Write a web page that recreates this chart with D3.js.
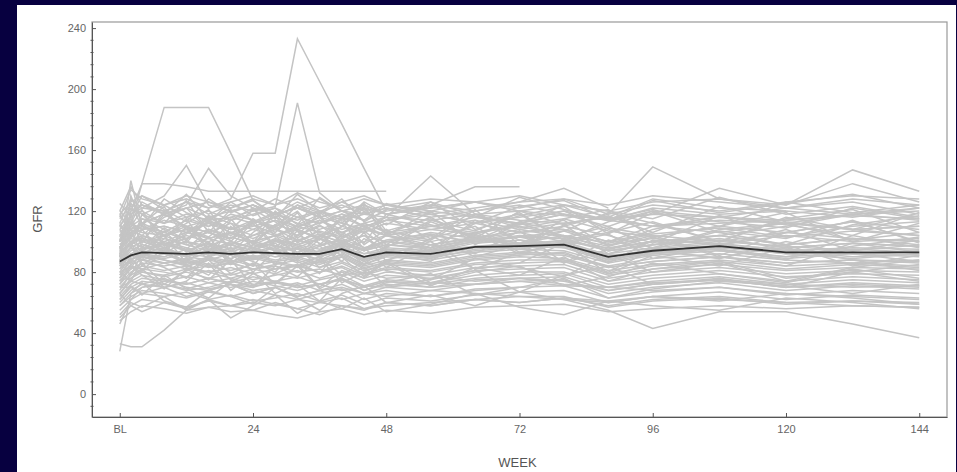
<!DOCTYPE html>
<html>
<head>
<meta charset="utf-8">
<script src="https://cdn.jsdelivr.net/npm/d3@7"></script>
<style>
    html, body { margin: 0; padding: 0; background: #070040; }
    svg { display: block; }
    .axis text { font-family: "Liberation Sans", Arial, sans-serif; font-size: 11px; fill: #666; }
    .axis path, .axis line { stroke: #555; }
    .axis-title { font-family: "Liberation Sans", Arial, sans-serif; font-size: 13px; fill: #555; }
</style>
</head>
<body>
<div id="chart"></div>
<script>
// visit weeks (0 = baseline)
const weeks = [0, 2, 4, 8, 12, 16, 20, 24, 28, 32, 36, 40, 44, 48, 56, 64, 72, 80, 88, 96, 108, 120, 132, 144];

const xTicks = [0, 24, 48, 72, 96, 120, 144];
const xTickLabels = ["BL", "24", "48", "72", "96", "120", "144"];
const yTicks = [0, 40, 80, 120, 160, 200, 240];

// mean GFR per visit
const meanGFR = [87, 91, 93, 92.5, 92, 93, 92, 93, 92.5, 92, 92, 95, 90, 93, 92, 96.5, 97, 98, 90, 94, 97, 93, 93, 93];

// individual subjects, one row per subject (shorter rows = dropped out)
const subjects = [
    [33, 31, 31, 42, 55, 57, 58, 60, 58, 62, 60, 58, 56, 58, 60, 62, 60, 63, 61, 64, 62, 60, 61, 59],
    [28, 66, 70, 72, 68, 70, 74, 71, 73, 70, 72, 75, 71, 70, 73, 72, 74, 71, 70, 73, 75, 72, 70, 71],
    [96, 112, 138, 188, 188, 188, 158, 127, 118, 112, 108],
    [100, 118, 124, 120, 126, 122, 128, 158, 158, 233, 205, 177, 148, 120],
    [104, 110, 115, 112, 118, 114, 116, 120, 123, 191, 132, 120, 118, 116, 114, 118, 120, 117, 115, 118, 116, 114, 117, 115],
    [90, 120, 138, 138, 136, 133, 133, 133, 133, 133, 133, 133, 133, 133],
    [98, 104, 108, 110, 106, 112, 108, 114, 110, 116, 112, 118, 114, 120, 124, 136, 136],
    [92, 100, 102, 98, 104, 100, 106, 102, 108, 104, 110, 106, 112, 116, 143, 118, 114, 112, 116, 110, 114, 112, 108, 110],
    [95, 102, 100, 104, 98, 102, 106, 100, 104, 108, 102, 106, 110, 104, 108, 112, 106, 110, 118, 149, 128, 122, 118, 120],
    [100, 106, 110, 104, 108, 112, 106, 110, 114, 108, 112, 116, 110, 114, 118, 112, 116, 120, 114, 118, 135, 124, 147, 133],
    [70, 74, 72, 76, 70, 68, 72, 66, 70, 64, 68, 62, 66, 64, 68, 66, 64, 62, 55, 43, 54, 54, 46, 37],
    [102, 108, 112, 106, 114, 110, 116, 112, 118, 114, 120, 116, 122, 118, 124, 120, 126, 135, 122],
    [118, 126, 130, 124, 128, 122, 126, 130, 124, 128, 122, 126, 130, 124, 128, 126, 122, 128, 124, 130, 126, 122, 128, 124],
    [110, 122, 118, 124, 116, 120, 114, 118, 122, 116, 120, 114, 118, 122, 116, 120, 124, 118, 114, 122, 118, 120, 116, 122],
    [108, 116, 120, 112, 116, 110, 118, 114, 108, 116, 112, 118, 110, 114, 120, 116, 112, 118, 114, 110, 116, 112, 118, 114],
    [85, 130, 112, 118, 110, 114, 108, 112, 116, 110, 114, 108, 112, 106, 110, 114, 108, 112, 116, 110, 106, 112, 108, 110],
    [104, 112, 108, 110, 106, 113, 109, 104, 111, 107, 103, 110, 106, 112, 108, 105, 111, 115, 107, 103, 110, 106, 113, 108],
    [98, 104, 110, 106, 102, 108, 104, 111, 105, 100, 107, 103, 109, 104, 100, 106, 110, 104, 99, 105, 109, 103, 107, 104],
    [96, 108, 104, 100, 106, 102, 98, 104, 108, 101, 105, 99, 104, 100, 106, 102, 108, 103, 97, 104, 100, 106, 102, 98],
    [92, 100, 104, 98, 102, 106, 100, 96, 102, 98, 104, 100, 95, 101, 105, 99, 103, 107, 98, 102, 98, 104, 100, 102],
    [94, 98, 102, 96, 100, 97, 103, 99, 95, 101, 97, 102, 96, 100, 98, 103, 99, 104, 95, 100, 104, 98, 102, 100],
    [90, 96, 100, 102, 98, 94, 100, 96, 101, 97, 93, 99, 95, 100, 96, 102, 98, 101, 94, 98, 102, 96, 99, 97],
    [88, 100, 96, 98, 94, 99, 95, 100, 97, 93, 98, 101, 94, 98, 95, 100, 103, 97, 92, 96, 100, 97, 94, 98],
    [86, 94, 98, 95, 91, 97, 93, 98, 94, 96, 92, 98, 90, 95, 93, 99, 101, 98, 90, 95, 99, 94, 96, 95],
    [92, 90, 95, 99, 94, 92, 96, 93, 97, 95, 91, 96, 92, 94, 90, 97, 99, 100, 91, 93, 98, 95, 92, 94],
    [84, 92, 96, 94, 90, 95, 91, 96, 92, 89, 94, 97, 88, 93, 91, 96, 98, 99, 88, 94, 97, 92, 95, 93],
    [88, 96, 92, 90, 95, 91, 94, 90, 93, 96, 90, 95, 89, 92, 94, 97, 95, 100, 89, 92, 96, 94, 90, 92],
    [80, 90, 94, 92, 88, 93, 89, 94, 90, 92, 88, 94, 87, 91, 89, 95, 97, 96, 87, 92, 95, 90, 93, 91],
    [82, 88, 92, 94, 90, 88, 92, 89, 93, 90, 92, 95, 88, 92, 90, 94, 96, 97, 88, 93, 96, 92, 89, 92],
    [78, 88, 91, 89, 92, 90, 87, 91, 88, 90, 86, 92, 85, 90, 88, 93, 95, 94, 86, 91, 94, 89, 92, 90],
    [84, 86, 90, 88, 85, 89, 86, 90, 87, 84, 88, 91, 84, 88, 86, 91, 93, 92, 84, 89, 92, 88, 86, 88],
    [76, 85, 88, 86, 89, 85, 88, 84, 87, 89, 85, 90, 83, 86, 84, 89, 91, 93, 83, 87, 90, 86, 88, 87],
    [74, 82, 86, 84, 87, 83, 86, 82, 85, 88, 83, 87, 81, 85, 83, 88, 90, 89, 81, 85, 88, 84, 86, 84],
    [80, 84, 82, 86, 82, 84, 81, 85, 82, 84, 80, 86, 79, 83, 81, 86, 88, 88, 79, 84, 87, 82, 85, 83],
    [72, 80, 84, 81, 84, 80, 83, 79, 82, 85, 80, 84, 78, 82, 80, 85, 86, 87, 78, 82, 85, 81, 83, 82],
    [70, 78, 82, 80, 77, 81, 78, 82, 79, 76, 80, 83, 76, 80, 78, 83, 84, 85, 76, 80, 83, 79, 81, 80],
    [75, 76, 80, 77, 80, 76, 79, 75, 78, 81, 76, 80, 74, 78, 76, 81, 82, 83, 74, 78, 81, 77, 79, 78],
    [66, 74, 78, 75, 72, 76, 73, 77, 74, 71, 75, 78, 71, 75, 73, 78, 80, 80, 72, 76, 79, 74, 77, 75],
    [64, 72, 76, 74, 77, 73, 76, 72, 74, 77, 72, 76, 70, 74, 72, 76, 78, 79, 70, 74, 77, 72, 75, 73],
    [70, 70, 74, 72, 69, 73, 70, 74, 71, 68, 72, 75, 68, 72, 70, 75, 76, 77, 68, 72, 75, 70, 73, 71],
    [60, 68, 72, 70, 73, 69, 72, 68, 70, 73, 68, 72, 66, 70, 68, 72, 74, 75, 66, 70, 73, 68, 71, 69],
    [58, 64, 68, 66, 63, 67, 64, 68, 65, 62, 66, 69, 62, 66, 64, 69, 70, 71, 63, 67, 70, 65, 68, 66],
    [55, 62, 66, 64, 67, 62, 65, 61, 63, 66, 61, 65, 59, 63, 61, 65, 67, 68, 60, 64, 67, 62, 65, 63],
    [50, 58, 62, 60, 57, 61, 58, 62, 59, 56, 60, 63, 56, 60, 58, 62, 64, 64, 57, 61, 63, 59, 61, 60],
    [48, 54, 58, 56, 53, 57, 54, 55, 52, 50, 54, 56, 52, 55, 53, 57, 58, 59, 54, 56, 58, 56, 58, 57],
    [112, 128, 122, 120, 126, 118, 124, 120, 128, 122, 118, 126, 120, 124, 118, 122, 126, 128, 118, 124, 120, 126, 130, 128],
    [116, 134, 128, 124, 130, 126, 122, 128, 124, 132, 126, 122, 128, 124, 120, 126, 130, 124, 120, 126, 128, 124, 138, 126],
    [120, 136, 124, 118, 122, 126, 120, 124, 118, 122, 128, 120, 124, 118, 122, 126, 120],
    [100, 110, 106, 104, 110, 106, 102, 108, 104, 110, 106, 102, 108, 104, 110, 106, 112, 108, 100, 106],
    [82, 92, 88, 92, 86, 90, 94, 88, 92, 86, 90, 94, 88, 92],
    [74, 84, 80, 78, 82, 80, 76, 80],
    [62, 70, 66, 70, 64, 68, 72, 66, 70, 64, 68, 70, 66, 68, 64, 68, 70],
    [92, 98, 94, 100, 96, 92, 98, 94, 100, 96, 102, 98, 94, 100, 104, 100, 106, 108, 100, 110, 112, 114, 118, 122],
    [88, 92, 90, 86, 88, 84, 86, 82, 84, 80, 82, 78, 80, 76, 78, 74, 76, 72, 70, 68, 70, 66, 64, 62],
    [90, 140, 110, 104, 108, 102, 106, 100, 104, 98, 102, 96, 100, 104, 98, 102, 106, 100, 96, 100, 104, 98, 102, 100],
    [100, 118, 122, 130, 150, 124, 120, 124, 118, 122, 116, 120, 114],
    [94, 106, 112, 118, 124, 148, 130, 122, 118, 126, 120, 124, 118, 122, 116],
    [46, 62, 70, 74, 72, 76, 72, 70, 74, 70, 72, 68, 70, 74, 70, 72, 76, 74, 68, 72, 75, 70, 72, 70],
    [66, 58, 54, 60, 56, 62, 58, 55, 60, 56, 52, 58, 55, 60, 58, 62, 60, 63, 58, 62, 64, 60, 58, 57],
    [104, 112, 108, 114, 110, 106, 112, 108, 114, 110, 116, 112, 108, 114, 110, 116, 112, 118, 110, 120, 116, 122, 126, 118],
    [90, 104, 100, 96, 100, 95, 99, 96, 101, 98, 95, 100, 94, 98, 96, 101, 103, 102, 94, 98, 101, 96, 99, 97],
    [78, 88, 92, 88, 84, 88, 85, 89, 86, 83, 87, 90, 82, 87, 85, 90, 92, 91, 83, 87, 90, 86, 88, 86],
    [110, 120, 124, 118, 122, 116, 120, 124, 118, 122, 116, 120, 124, 118, 122, 126, 120, 124, 116, 128, 122, 120],
    [86, 96, 92, 96, 90, 94, 98, 92, 96, 90, 94, 100, 92, 96, 94, 100, 104, 102, 94, 98, 104, 110, 118],
    [108, 96, 118, 104, 112, 121, 100, 115, 106, 119, 98, 110, 122, 105, 116, 101, 113, 120, 108, 99, 117, 111, 104, 119],
    [101, 115, 99, 120, 108, 96, 114, 122, 103, 111, 118, 97, 109, 116, 102, 121, 98, 107, 119, 112, 100, 115, 121, 106],
    [95, 110, 121, 97, 105, 117, 112, 99, 120, 108, 101, 115, 123, 104, 96, 112, 118, 101, 113, 120, 106, 98, 111, 117],
    [112, 99, 104, 116, 122, 107, 97, 113, 119, 102, 114, 106, 99, 118, 111, 104, 96, 115, 121, 103, 110, 119, 100, 112],
    [84, 97, 108, 92, 101, 88, 110, 96, 85, 104, 99, 91, 106, 87, 102, 110, 93, 99, 105, 89, 97, 108, 94, 101],
    [90, 82, 95, 104, 86, 99, 91, 84, 101, 93, 88, 105, 96, 83, 98, 92, 107, 86, 95, 103, 90, 84, 99, 93],
    [76, 89, 81, 94, 85, 78, 92, 87, 80, 96, 83, 90, 77, 88, 95, 82, 86, 99, 79, 91, 84, 96, 88, 81],
    [68, 79, 86, 72, 81, 88, 75, 70, 84, 77, 89, 73, 80, 86, 71, 83, 78, 90, 74, 82, 87, 76, 80, 85],
    [62, 71, 65, 78, 69, 63, 74, 80, 66, 72, 61, 76, 68, 73, 79, 65, 70, 76, 63, 69, 74, 71, 66, 72],
    [58, 66, 73, 61, 57, 68, 64, 59, 70, 63, 55, 66, 71, 60, 65, 58, 67, 62, 60, 64, 61, 66, 63, 59],
    [115, 124, 110, 128, 119, 113, 126, 117, 122, 111, 129, 120, 114, 125, 118, 112, 123, 127, 115, 121, 110, 126, 119, 124],
    [120, 112, 126, 118, 131, 114, 122, 127, 116, 124, 119, 128, 113, 121, 126, 117, 111, 124, 120, 115, 129, 118, 123, 116],
    [103, 118, 96, 109, 101, 114, 93, 106, 117, 99, 108, 113, 95, 104, 120, 98, 112, 103, 110, 95, 107, 102, 114, 99],
    [97, 86, 103, 92, 110, 98, 88, 101, 94, 107, 90, 99, 104, 93, 87, 106, 96, 111, 92, 100, 95, 88, 104, 96],
    [88, 100, 84, 96, 91, 103, 86, 95, 99, 88, 102, 93, 85, 97, 104, 90, 98, 86, 101, 94, 89, 100, 92, 87],
    [80, 74, 88, 83, 76, 91, 79, 86, 72, 84, 90, 78, 87, 81, 75, 89, 83, 77, 92, 80, 86, 74, 83, 88],
    [72, 84, 78, 69, 82, 75, 88, 71, 79, 85, 70, 81, 76, 87, 73, 80, 84, 71, 77, 86, 79, 73, 82, 76],
    [110, 102, 115, 108, 99, 117, 105, 112, 96, 109, 116, 103, 111, 98, 114, 107, 119, 101, 106, 113, 100, 116, 108, 104],
    [106, 113, 100, 118, 109, 103, 115, 98, 111, 120, 104, 96, 112, 107, 101, 118, 109, 114, 97, 108, 117, 103, 110, 113],
    [93, 105, 112, 99, 95, 108, 102, 114, 97, 104, 111, 100, 107, 96, 113, 103, 99, 110, 104, 96, 108, 112, 101, 106],
    [52, 60, 57, 64, 55, 62, 50, 58, 65, 53, 61, 56, 63, 54, 59, 66, 57, 52, 61, 58, 55, 63, 60, 56],
    [100, 125, 118, 112, 127, 106, 121, 114, 109, 124, 116, 104, 120, 111, 126, 108, 117, 123, 105, 119, 113, 109, 122, 115],
    [86, 78, 92, 99, 83, 90, 96, 80, 94, 87, 79, 97, 85, 91, 100, 82, 93, 88, 80, 95, 89, 98, 84, 91],
    [118, 105, 112, 123, 101, 116, 108, 121, 113, 104, 119, 110, 125, 107, 115, 102, 120, 111, 117, 106, 123, 113, 108, 119],
    [96, 109, 90, 102, 115, 94, 106, 99, 111, 92, 103, 116, 98, 108, 93, 114, 101, 96, 109, 104, 91, 106, 113, 100],
    [66, 76, 82, 70, 74, 86, 68, 79, 73, 84, 69, 77, 83, 71, 75, 81, 67, 78, 84, 72, 76, 70, 80, 74],
    [125, 117, 130, 121, 113, 128, 119, 124, 115, 131, 120, 112, 126, 118, 123, 116, 129, 121, 114, 127, 119, 125, 131, 122],
    [90, 96, 88, 107, 93, 100, 85, 98, 104, 91, 97, 87, 102, 95, 89, 105, 92, 99, 86, 101, 94, 90, 97, 103]
];

const width = 957;
const height = 472;
const plot = { left: 92, right: 947, top: 22, bottom: 417 };

const svg = d3.select("#chart")
    .append("svg")
    .attr("width", width)
    .attr("height", height);

// navy slide background with white panel
svg.append("rect")
    .attr("width", width)
    .attr("height", height)
    .attr("fill", "#070040");

svg.append("rect")
    .attr("x", 17)
    .attr("y", 5)
    .attr("width", 939)
    .attr("height", height - 5)
    .attr("fill", "#ffffff");

const x = d3.scaleLinear()
    .domain([-5, 149])
    .range([plot.left, plot.right]);

const y = d3.scaleLinear()
    .domain([-15, 244])
    .range([plot.bottom, plot.top]);

// frame (top/right lighter)
svg.append("rect")
    .attr("x", plot.left)
    .attr("y", plot.top)
    .attr("width", plot.right - plot.left)
    .attr("height", plot.bottom - plot.top)
    .attr("fill", "none")
    .attr("stroke", "#999")
    .attr("stroke-width", 1.2);

const line = d3.line()
    .x((d, i) => x(weeks[i]))
    .y(d => y(d));

svg.append("g")
    .attr("class", "subjects")
    .selectAll("path")
    .data(subjects)
    .enter()
    .append("path")
    .attr("d", d => line(d))
    .attr("fill", "none")
    .attr("stroke", "#c4c4c4")
    .attr("stroke-width", 1.5);

svg.append("path")
    .datum(meanGFR)
    .attr("d", line)
    .attr("fill", "none")
    .attr("stroke", "#333")
    .attr("stroke-width", 1.8);

// y axis: major ticks point inward, minor ticks every 8
const yAxis = svg.append("g")
    .attr("class", "axis")
    .attr("transform", `translate(${plot.left},0)`)
    .call(d3.axisLeft(y).tickValues(yTicks).tickSizeInner(-4).tickSizeOuter(0).tickPadding(6));

const minorY = d3.range(-8, 244, 8).filter(v => v % 40 !== 0);
yAxis.selectAll(".minor")
    .data(minorY)
    .enter()
    .append("line")
    .attr("class", "minor")
    .attr("x1", -1.5)
    .attr("x2", 1.5)
    .attr("y1", d => y(d))
    .attr("y2", d => y(d))
    .attr("stroke", "#555");

svg.append("g")
    .attr("class", "axis")
    .attr("transform", `translate(0,${plot.bottom})`)
    .call(d3.axisBottom(x).tickValues(xTicks)
        .tickFormat((d, i) => xTickLabels[i])
        .tickSizeInner(-4).tickSizeOuter(0).tickPadding(8));

svg.append("text")
    .attr("class", "axis-title")
    .attr("text-anchor", "middle")
    .attr("x", (plot.left + plot.right) / 2 - 2)
    .attr("y", 467)
    .text("WEEK");

svg.append("text")
    .attr("class", "axis-title")
    .attr("text-anchor", "middle")
    .attr("transform", `translate(42,219) rotate(-90)`)
    .text("GFR");
</script>
</body>
</html>
